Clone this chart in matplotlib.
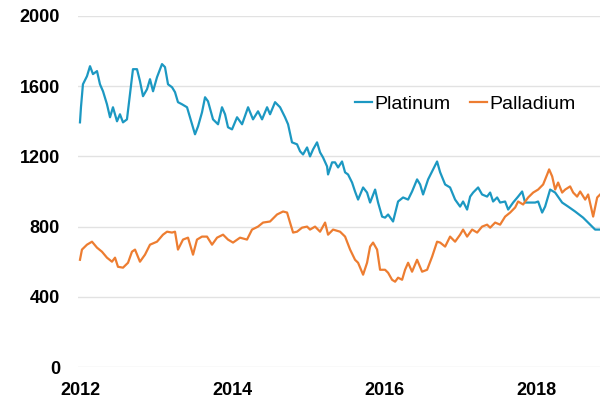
import numpy as np
import matplotlib
matplotlib.use("Agg")
import matplotlib.pyplot as plt

# values (year, price)
plat_year = [2012.000, 2012.013, 2012.039, 2012.092, 2012.132, 2012.171, 2012.224, 2012.263, 2012.303, 2012.355,
             2012.395, 2012.434, 2012.487, 2012.526, 2012.566, 2012.618, 2012.658, 2012.697, 2012.750, 2012.789,
             2012.829, 2012.882, 2012.921, 2012.961, 2013.013, 2013.079, 2013.118, 2013.158, 2013.211, 2013.250,
             2013.289, 2013.342, 2013.408, 2013.447, 2013.513, 2013.553, 2013.605, 2013.645, 2013.684, 2013.750,
             2013.816, 2013.868, 2013.908, 2013.947, 2014.000, 2014.066, 2014.132, 2014.211, 2014.276, 2014.342,
             2014.395, 2014.461, 2014.500, 2014.566, 2014.632, 2014.697, 2014.737, 2014.789, 2014.855, 2014.895,
             2014.934, 2014.987, 2015.026, 2015.066, 2015.118, 2015.158, 2015.197, 2015.250, 2015.263, 2015.316,
             2015.355, 2015.395, 2015.447, 2015.487, 2015.526, 2015.579, 2015.618, 2015.658, 2015.724, 2015.776,
             2015.816, 2015.882, 2015.921, 2015.974, 2016.013, 2016.053, 2016.118, 2016.184, 2016.250, 2016.316,
             2016.368, 2016.434, 2016.474, 2016.513, 2016.579, 2016.645, 2016.697, 2016.737, 2016.803, 2016.868,
             2016.934, 2017.000, 2017.039, 2017.092, 2017.132, 2017.171, 2017.237, 2017.289, 2017.355, 2017.395,
             2017.434, 2017.487, 2017.526, 2017.592, 2017.632, 2017.697, 2017.763, 2017.816, 2017.855, 2017.921,
             2017.987, 2018.026, 2018.079, 2018.118, 2018.184, 2018.250, 2018.342, 2018.421, 2018.513, 2018.618,
             2018.711, 2018.776, 2018.842]
platinum = [1394, 1480, 1611, 1657, 1714, 1669, 1686, 1611, 1571, 1497,
            1423, 1480, 1400, 1440, 1394, 1411, 1554, 1697, 1697, 1629,
            1543, 1583, 1640, 1571, 1651, 1726, 1709, 1611, 1594, 1566,
            1509, 1497, 1480, 1423, 1326, 1371, 1451, 1537, 1514, 1411,
            1383, 1480, 1440, 1366, 1354, 1423, 1383, 1480, 1411, 1457,
            1411, 1480, 1440, 1509, 1480, 1423, 1383, 1280, 1269, 1229,
            1211, 1251, 1200, 1240, 1280, 1223, 1194, 1143, 1097, 1166,
            1166, 1137, 1171, 1109, 1097, 1051, 1000, 954, 1023, 994,
            937, 1011, 937, 857, 851, 869, 829, 943, 966, 954,
            1000, 1069, 1040, 983, 1069, 1126, 1171, 1110, 1040, 1023,
            954, 914, 943, 897, 971, 994, 1023, 983, 971, 994,
            943, 966, 937, 943, 897, 937, 971, 1000, 937, 937,
            937, 943, 880, 914, 1011, 994, 937, 914, 886, 851,
            811, 783, 783]

pall_year = [2012.000, 2012.026, 2012.092, 2012.158, 2012.224, 2012.289, 2012.355, 2012.421, 2012.461, 2012.500,
             2012.566, 2012.632, 2012.684, 2012.724, 2012.789, 2012.855, 2012.921, 2013.013, 2013.092, 2013.145,
             2013.211, 2013.250, 2013.289, 2013.355, 2013.421, 2013.487, 2013.539, 2013.605, 2013.671, 2013.737,
             2013.803, 2013.882, 2013.947, 2014.013, 2014.105, 2014.197, 2014.263, 2014.342, 2014.408, 2014.500,
             2014.592, 2014.671, 2014.724, 2014.763, 2014.803, 2014.855, 2014.921, 2014.987, 2015.026, 2015.092,
             2015.158, 2015.224, 2015.263, 2015.329, 2015.421, 2015.487, 2015.553, 2015.618, 2015.658, 2015.724,
             2015.776, 2015.816, 2015.855, 2015.908, 2015.947, 2016.013, 2016.053, 2016.105, 2016.145, 2016.184,
             2016.237, 2016.276, 2016.316, 2016.368, 2016.434, 2016.500, 2016.566, 2016.632, 2016.697, 2016.737,
             2016.803, 2016.868, 2016.934, 2017.000, 2017.039, 2017.092, 2017.158, 2017.224, 2017.289, 2017.355,
             2017.395, 2017.461, 2017.526, 2017.592, 2017.658, 2017.724, 2017.763, 2017.829, 2017.895, 2017.961,
             2018.026, 2018.092, 2018.145, 2018.171, 2018.211, 2018.250, 2018.289, 2018.342, 2018.382, 2018.447,
             2018.487, 2018.539, 2018.579, 2018.645, 2018.684, 2018.750, 2018.803, 2018.842]
palladium = [611, 669, 697, 714, 680, 657, 623, 600, 623, 571,
             566, 594, 657, 669, 600, 640, 697, 714, 754, 771,
             766, 771, 669, 726, 737, 640, 726, 743, 743, 697,
             737, 754, 726, 709, 737, 726, 783, 800, 823, 829,
             869, 886, 880, 823, 766, 771, 794, 800, 783, 800,
             771, 823, 754, 783, 771, 743, 669, 611, 594, 526,
             594, 686, 709, 669, 554, 554, 537, 497, 486, 509,
             497, 554, 594, 543, 611, 543, 554, 629, 714, 709,
             686, 743, 714, 754, 783, 743, 783, 766, 800, 811,
             794, 823, 811, 857, 880, 909, 943, 926, 966, 994,
             1011, 1040, 1097, 1126, 1086, 1011, 1051, 994, 1011, 1029,
             994, 971, 1000, 954, 983, 857, 966, 983]

yticks = [0, 400, 800, 1200, 1600, 2000]
xticks = [2012, 2014, 2016, 2018]

blue = "#1c98c2"
orange = "#ed7d31"

plt.rcParams['font.family'] = ['Liberation Sans', 'DejaVu Sans']

fig = plt.figure(figsize=(6, 4.03), dpi=100)
ax = fig.add_axes([78/600, 1 - 367/403, 1 - 78/600, (367 - 16)/403])

ax.plot(plat_year, platinum, color=blue, lw=1.6, label="Platinum")
ax.plot(pall_year, palladium, color=orange, lw=1.6, label="Palladium")

ax.set_xlim(2011.974, 2018.84)
ax.set_ylim(0, 2000)
ax.set_yticks(yticks)
ax.set_xticks(xticks)
ax.set_yticklabels([str(v) for v in yticks], fontsize=13, fontweight='bold')
ax.set_xticklabels([str(v) for v in xticks], fontsize=13, fontweight='bold')
ax.tick_params(axis='y', length=0, pad=13)
ax.tick_params(axis='x', length=0, pad=11)
ax.grid(axis='y', color='#e2e2e2', lw=1)
ax.set_axisbelow(True)
for s in ax.spines.values():
    s.set_visible(False)

leg = ax.legend(loc='center left', bbox_to_anchor=(355/600, 1 - 104/403),
                bbox_transform=fig.transFigure, ncol=2, frameon=False,
                fontsize=14, handlelength=0.85, handletextpad=0.15,
                columnspacing=1.0, borderpad=0, borderaxespad=0)

fig.savefig("out.png", dpi=100)
